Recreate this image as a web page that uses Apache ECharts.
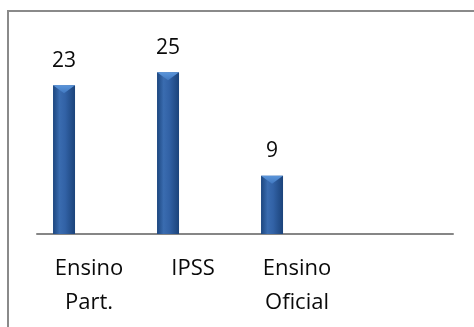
<!DOCTYPE html>
<html>
<head>
<meta charset="utf-8">
<script src="https://cdn.jsdelivr.net/npm/echarts@6/dist/echarts.min.js"></script>
<style>
  html, body { margin: 0; padding: 0; background: #ffffff; }
  #chart { width: 474px; height: 327px; }
</style>
</head>
<body>
<div id="chart"></div>
<script>
// Categories and counts per type of institution
const categories = ['Ensino\nPart.', 'IPSS', 'Ensino\nOficial', ''];
const values = [23, 25, 9, null];

const BAR_W = 22;
const BAR_SHIFT = -25; // bars sit left of the category centre

const chart = echarts.init(document.getElementById('chart'), null, { renderer: 'canvas' });

const barFill = new echarts.graphic.LinearGradient(0, 0, 1, 0, [
  { offset: 0, color: '#1c467f' },
  { offset: 0.3, color: '#3a6cb0' },
  { offset: 0.55, color: '#3262a6' },
  { offset: 1, color: '#1b437a' }
]);

chart.setOption({
  backgroundColor: '#ffffff',
  animation: false,
  graphic: [{
    type: 'rect',
    shape: { x: 8, y: 11, width: 520, height: 400 },
    style: { fill: 'none', stroke: '#8a8a8a', lineWidth: 2 },
    z: 10
  }],
  grid: { left: 37, right: 21, top: 40, bottom: 93 },
  xAxis: {
    type: 'category',
    data: categories,
    axisLine: { show: true, lineStyle: { color: '#868686', width: 2 } },
    axisTick: { show: false },
    axisLabel: {
      interval: 0,
      margin: 18,
      color: '#0a0a0a',
      fontFamily: 'Open Sans',
      fontSize: 22,
      lineHeight: 34
    }
  },
  yAxis: {
    type: 'value',
    min: 0,
    max: 30,
    show: false,
    splitLine: { show: false }
  },
  series: [
    {
      type: 'bar',
      data: values,
      barWidth: BAR_W,
      barGap: '127%',
      itemStyle: { color: barFill },
      label: {
        show: true,
        position: 'top',
        distance: 14,
        color: '#0a0a0a',
        fontFamily: 'Open Sans',
        fontSize: 21
      }
    },
    {
      type: 'bar',
      data: values.map(() => null),
      barWidth: BAR_W
    },
    {
      // bevelled chevron at the top of each bar
      type: 'custom',
      data: values.map((v, i) => [i, v]),
      renderItem: function (params, api) {
        const v = api.value(1);
        if (v == null || isNaN(v)) return null;
        const p = api.coord([api.value(0), v]);
        const cx = p[0] + BAR_SHIFT;
        const half = BAR_W / 2;
        return {
          type: 'polygon',
          shape: { points: [[cx - half, p[1]], [cx + half, p[1]], [cx, p[1] + 8]] },
          style: {
            fill: new echarts.graphic.LinearGradient(0, 0, 0, 1, [
              { offset: 0, color: '#5b95da' },
              { offset: 1, color: '#4078c0' }
            ])
          }
        };
      },
      z: 5
    }
  ]
});
</script>
</body>
</html>
